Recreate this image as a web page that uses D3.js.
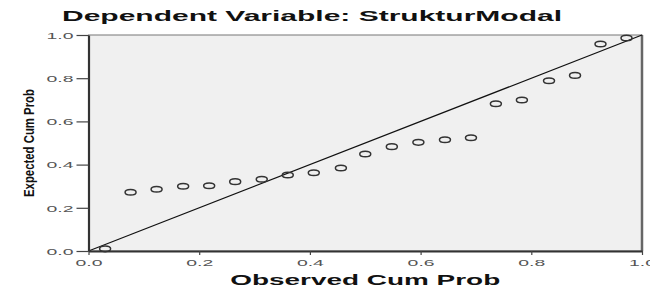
<!DOCTYPE html>
<html>
<head>
<meta charset="utf-8">
<script src="https://cdn.jsdelivr.net/npm/d3@7"></script>
<style>
  body { margin: 0; background: #fff; }
  text { font-family: "Liberation Sans", Arial, sans-serif; }
</style>
</head>
<body>
<script>
// observed vs expected cumulative probability
const observed = [0.03, 0.076, 0.123, 0.171, 0.218, 0.265, 0.313, 0.36, 0.407, 0.456,
  0.5, 0.548, 0.596, 0.644, 0.691, 0.736, 0.783, 0.832, 0.879, 0.925, 0.972];
const expected = [0.01, 0.272, 0.286, 0.30, 0.302, 0.321, 0.332, 0.352, 0.362, 0.384,
  0.449, 0.483, 0.503, 0.515, 0.524, 0.682, 0.699, 0.788, 0.813, 0.958, 0.986];
const ticks = [0, 0.2, 0.4, 0.6, 0.8, 1.0];

const width = 650, height = 289;
const margin = { top: 35, right: 8, bottom: 38, left: 88.5 };

const svg = d3.select("body").append("svg")
  .attr("width", width)
  .attr("height", height);

const x = d3.scaleLinear().domain([0, 1]).range([margin.left, width - margin.right]);
const y = d3.scaleLinear().domain([0, 1]).range([height - margin.bottom, margin.top]);

// plot background
svg.append("rect")
  .attr("x", x(0)).attr("y", y(1))
  .attr("width", x(1) - x(0)).attr("height", y(0) - y(1))
  .attr("fill", "#f0f0f0")
  .attr("stroke", "#777").attr("stroke-width", 1);

// right edge a bit heavier
svg.append("line")
  .attr("x1", x(1)).attr("x2", x(1)).attr("y1", y(1)).attr("y2", y(0))
  .attr("stroke", "#666").attr("stroke-width", 2.5);

// reference diagonal
svg.append("line")
  .attr("x1", x(0)).attr("y1", y(0)).attr("x2", x(1)).attr("y2", y(1))
  .attr("stroke", "#111").attr("stroke-width", 1.2);

// points
svg.append("g").selectAll("ellipse")
  .data(observed)
  .enter().append("ellipse")
  .attr("cx", (d) => x(d))
  .attr("cy", (d, i) => y(expected[i]))
  .attr("rx", 5.5).attr("ry", 2.8)
  .attr("fill", "none")
  .attr("stroke", "#333").attr("stroke-width", 1.5);

// axes
const fmt = d3.format(".1f");
const xAxis = d3.axisBottom(x).tickValues(ticks).tickFormat(fmt)
  .tickSize(4).tickSizeOuter(0).tickPadding(4);
const yAxis = d3.axisLeft(y).tickValues(ticks).tickFormat(fmt)
  .tickSize(12).tickSizeOuter(0).tickPadding(3);

const gx = svg.append("g").attr("transform", `translate(0,${y(0)})`).call(xAxis);
const gy = svg.append("g").attr("transform", `translate(${x(0)},0)`).call(yAxis);

[gx, gy].forEach(function(g) {
  g.select(".domain").attr("stroke", "#333").attr("stroke-width", 2.2);
  g.selectAll(".tick line").attr("stroke", "#444").attr("stroke-width", 1.2);
  g.selectAll(".tick text")
    .attr("fill", "#555")
    .attr("textLength", 27)
    .attr("lengthAdjust", "spacingAndGlyphs")
    .style("font-size", "9.5px")
    .style("font-family", "'Liberation Sans', Arial, sans-serif");
});
gy.selectAll(".tick text").attr("dy", "0.35em");

// title
svg.append("text")
  .attr("x", 62).attr("y", 21)
  .attr("textLength", 500)
  .attr("lengthAdjust", "spacingAndGlyphs")
  .style("font-size", "14.5px").style("font-weight", "bold")
  .attr("fill", "#111")
  .text("Dependent Variable: StrukturModal");

// axis titles
svg.append("text")
  .attr("x", x(0.5)).attr("y", 285)
  .attr("text-anchor", "middle")
  .attr("textLength", 270)
  .attr("lengthAdjust", "spacingAndGlyphs")
  .style("font-size", "15px").style("font-weight", "bold")
  .attr("fill", "#111")
  .text("Observed Cum Prob");

svg.append("text")
  .attr("transform", "translate(34,143) rotate(-90)")
  .attr("text-anchor", "middle")
  .attr("textLength", 108)
  .attr("lengthAdjust", "spacingAndGlyphs")
  .style("font-size", "15px").style("font-weight", "bold")
  .attr("fill", "#111")
  .text("Expected Cum Prob");
</script>
</body>
</html>
